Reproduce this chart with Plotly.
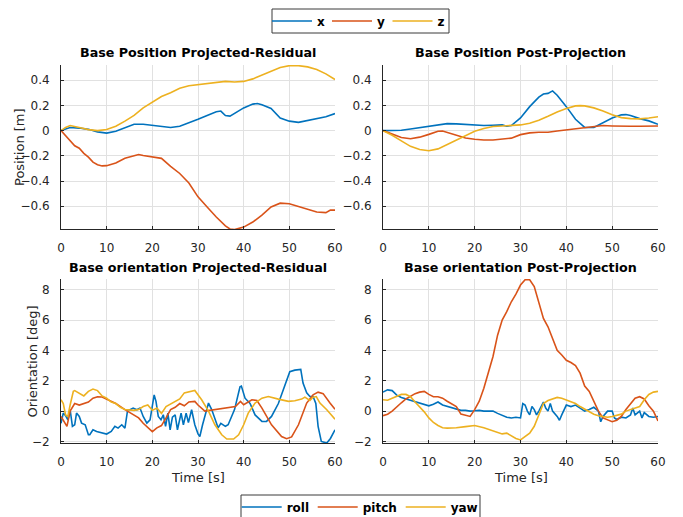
import plotly.graph_objects as go

# ---------------- data ----------------
# Top-left: Base Position Projected-Residual [m]
pr_x_t = [0,2,4,6,8,10,12,14,16,18,20,22,24,26,28,30,32,34,35,36,37,38,40,42,43,44,46,48,50,52,54,56,58,60]
pr_x_v = [0,0.025,0.02,0.01,-0.01,-0.02,-0.005,0.025,0.05,0.05,0.04,0.03,0.025,0.035,0.06,0.09,0.12,0.15,0.155,0.12,0.115,0.135,0.18,0.21,0.215,0.205,0.175,0.10,0.075,0.065,0.08,0.095,0.11,0.135]
pr_y_t = [0,1,2,3,4,5,6,7,8,9,10,12,14,16,17,18,20,22,24,26,28,30,32,34,36,37,38,40,42,44,46,48,50,52,54,56,58,59,60]
pr_y_v = [0,-0.04,-0.08,-0.12,-0.14,-0.18,-0.21,-0.25,-0.27,-0.28,-0.278,-0.257,-0.22,-0.198,-0.19,-0.198,-0.21,-0.22,-0.283,-0.34,-0.415,-0.525,-0.605,-0.685,-0.755,-0.78,-0.785,-0.765,-0.725,-0.67,-0.605,-0.575,-0.58,-0.6,-0.62,-0.645,-0.65,-0.63,-0.63]
pr_z_t = [0,1,2,3,4,6,8,10,12,14,16,18,20,22,24,26,28,30,32,34,36,38,40,42,44,46,48,50,52,54,56,58,60]
pr_z_v = [0,0.025,0.04,0.035,0.025,0.008,0,0.008,0.035,0.075,0.12,0.18,0.225,0.27,0.30,0.335,0.355,0.365,0.37,0.38,0.39,0.385,0.39,0.41,0.44,0.47,0.50,0.515,0.515,0.505,0.485,0.45,0.405]

# Top-right: Base Position Post-Projection [m]
pp_x_t = [0,2,4,6,8,10,12,14,16,18,20,22,24,26,27,28,30,32,34,35,36,37,38,40,42,44,46,48,50,52,53,54,56,58,60]
pp_x_v = [0,0,0.003,0.013,0.024,0.037,0.045,0.055,0.053,0.048,0.042,0.04,0.042,0.045,0.035,0.04,0.10,0.19,0.265,0.29,0.295,0.315,0.28,0.19,0.09,0.025,0.025,0.06,0.10,0.125,0.127,0.12,0.095,0.077,0.05]
pp_y_t = [0,2,4,6,8,10,12,13,14,16,18,20,22,24,26,28,30,32,34,36,38,40,42,44,46,48,50,52,54,56,58,60]
pp_y_v = [0,-0.03,-0.055,-0.065,-0.052,-0.03,-0.005,-0.003,-0.013,-0.037,-0.058,-0.068,-0.074,-0.074,-0.068,-0.06,-0.032,-0.018,-0.013,-0.013,-0.003,0.005,0.018,0.024,0.034,0.04,0.037,0.034,0.034,0.034,0.037,0.037]
pp_z_t = [0,2,4,6,8,10,12,14,16,18,20,22,24,26,28,30,32,34,36,38,40,42,43,44,46,48,50,52,54,56,58,60]
pp_z_v = [0,-0.037,-0.082,-0.125,-0.15,-0.16,-0.145,-0.11,-0.074,-0.037,-0.005,0.016,0.032,0.037,0.04,0.045,0.058,0.082,0.114,0.148,0.175,0.196,0.198,0.196,0.18,0.156,0.125,0.103,0.095,0.093,0.10,0.11]

# Bottom-left: Base orientation Projected-Residual [deg]
or_roll_t = [0,0.5,1,1.5,2,2.5,3,3.4,4,4.5,5.3,6,6.3,7,7.8,9,10,11,11.8,12.5,13.3,14,14.6,15.1,15.8,16.6,17.3,18,18.8,19.5,20.4,20.8,21.3,21.9,22.4,22.9,23.4,23.9,24.4,25,25.5,26.3,26.8,27.4,27.9,28.6,29.3,30,30.4,31,32.3,33,34.4,35,36,36.6,38,39.2,39.5,40.3,41.4,42.5,44,45,46.1,47.6,49,50.1,51.2,52.5,53,53.8,54.5,55.2,55.8,56.3,57,58.2,59,60]
or_roll_v = [-0.8,-0.13,-0.3,-0.57,0.09,-1.0,-0.9,-0.13,-0.35,-0.79,-0.9,-1.56,-1.56,-1.23,-1.34,-1.45,-1.51,-1.34,-1.0,-1.12,-0.9,-1.12,0.09,0.09,0.2,0.09,0.2,-0.35,-0.79,-0.57,1.07,0.64,-0.35,-0.57,-0.24,-1.0,-0.13,-1.23,-0.4,-0.24,-1.23,-0.13,-0.9,-0.13,-0.75,0.09,-0.9,-1.5,-1.67,-0.9,0.53,0.1,-1.1,-0.8,-1.0,-0.9,0.1,1.6,1.65,0.85,0.5,-0.25,-0.68,-0.68,-0.35,0.5,1.6,2.6,2.7,2.75,1.85,1.2,0.96,0.96,0.5,-1.0,-2.0,-2.1,-1.8,-1.23]
or_pitch_t = [0,1,1.3,2,3,4,5,6,7,8,9,10,12,14,15,16,17,18,19,20,21,22,23,24,25,26,27,28,29.3,30,31.5,33.7,36.4,38.2,39.3,40,41.8,42.9,44,46.1,48.3,49.4,50.5,52,53.8,55.2,56.3,57.4,58.9,60]
or_pitch_v = [-0.35,-0.9,-1.0,0,0.5,0.4,0.5,0.6,0.85,0.95,0.93,0.8,0.5,0.1,-0.1,-0.3,-0.45,-0.8,-1.1,-1.35,-1.1,-0.95,-0.45,0.1,0.25,0.5,0.35,0.6,0.64,0.4,0,0.1,0.24,0.3,0.64,0.42,0.75,0.7,0.2,-0.9,-1.67,-1.82,-1.7,-0.9,0.53,1.07,1.25,1.15,0.53,0.13]
or_yaw_t = [0,0.5,1,1.5,2,2.7,3,4,5,6,7,8,9,10,11,12,13,14,15,16,17,18,19,20,21,22,23,24,25,26,27,28,29.3,30.8,32.3,33.7,35.2,36.3,37.8,38.9,40,41,42.5,44,45.4,47.6,49.8,51.2,52.7,53.4,54.5,55.2,55.9,56.7,58.2,60]
or_yaw_v = [0.75,0.5,-0.25,-0.35,0.4,1.3,1.35,1.2,1.0,1.3,1.45,1.35,1.0,0.85,0.6,0.5,0.25,0.1,0.05,0.05,0.1,0.3,0.4,0.05,0.2,-0.15,0.3,0.45,0.6,0.8,1.2,1.25,1.36,0.75,0,-0.9,-1.56,-1.84,-1.84,-1.56,-0.9,-0.13,0.53,0.85,0.96,0.79,0.64,0.68,0.79,0.92,0.7,0.92,0.96,0.53,0.09,-0.53]

# Bottom-right: Base orientation Post-Projection [deg]
op_roll_t = [0,1,2,3,4,5,6,7,8,9,10,11,12,13,14,15,16,17,18,19,20,21,22,23,24,25,26,27,28,29,30,30.5,31,31.5,32,32.5,33,33.5,34,35,35.5,36,36.5,37,38,38.5,39,40,41,42,43,44,45,46,47,47.5,48,49,50,50.5,51,52,53,54,54.5,55,56,56.5,57,58,59,60]
op_roll_v = [1.25,1.4,1.35,1.05,0.9,0.8,0.7,0.65,0.5,0.4,0.35,0.45,0.6,0.4,0.3,0.25,0.15,0.05,0.05,0,0.02,0.05,0,0.02,0,-0.15,-0.3,-0.4,-0.45,-0.4,-0.45,0.5,0.4,0,-0.25,0.3,0.1,-0.25,0,0.6,0.2,0,0.5,0,-0.35,-0.6,-0.25,0.4,0.3,0.4,0.2,0,0.1,0.25,0,-0.7,-0.35,0,0,-0.45,-0.55,-0.4,-0.45,-0.25,0.2,-0.25,0,-0.45,-0.1,-0.35,-0.4,-0.35]
op_pitch_t = [0,1,2,3,4,5,6,7,8,9,10,11,12,13,14,15,16,17,18,19,20,21,22,23,24,25,26,27,28,29,30,31,32,33,34,35,36,37,38,39,40,41,42,43,44,45,46,47,48,49,50,51,52,53,54,55,56,57,58,59,60]
op_pitch_v = [-0.3,-0.2,0,0.3,0.55,0.8,1.0,1.15,1.25,1.3,1.1,0.95,0.95,0.85,0.65,0.45,0.3,-0.2,-0.25,-0.35,0.1,0.65,1.5,2.5,3.6,5.0,6.0,6.55,7.2,7.7,8.3,8.65,8.65,8.2,7.2,6.1,5.55,4.8,4.0,3.7,3.35,3.2,3.0,2.5,1.65,1.3,0.65,0,-0.45,-0.6,-0.7,-0.6,-0.35,0.1,0.5,0.85,0.95,0.8,0.35,0,-0.65]
op_yaw_t = [0,1,2,3,4,5,6,7,8,9,10,11,12,13,14,16,18,20,22,24,25,26,27,28,29,30,31,32,33,34,35,36,37,38,39,40,41,42,43,44,45,46,47,48,49,50,51,52,53,54,55,56,57,58,59,60]
op_yaw_v = [0.75,0.72,0.85,1.0,1.1,1.1,0.95,0.6,0.3,-0.05,-0.45,-0.75,-0.95,-1.1,-1.12,-1.1,-1.02,-0.95,-1.1,-1.3,-1.45,-1.5,-1.45,-1.65,-1.8,-1.9,-1.7,-1.45,-1.0,-0.25,0.5,0.7,0.8,0.9,0.85,0.75,0.6,0.5,0.3,0.12,-0.05,-0.2,-0.3,-0.35,-0.4,-0.35,-0.3,-0.2,0,0.1,0.25,0.3,0.75,1.1,1.25,1.3]

titles = ["Base Position Projected-Residual", "Base Position Post-Projection",
          "Base orientation Projected-Residual", "Base orientation Post-Projection"]
pos_ticks = [-0.6, -0.4, -0.2, 0, 0.2, 0.4]
ori_ticks = [-2, 0, 2, 4, 6, 8]
x_ticks = [0, 10, 20, 30, 40, 50, 60]

C_BLUE, C_ORANGE, C_YELLOW = "#0072BD", "#D95319", "#EDB120"
W, H = 683, 517
FONT = "DejaVu Sans"
TXT = "#262626"

# legend entry text widths (px), to match the reference spacing
LEG_W = {"x": 5.0, "y": 5.5, "z": 8.0, "roll": 21.0, "pitch": 33.0, "yaw": 27.0}

fig = go.Figure()

def add(t, v, name, color, ax, legend, show):
    fig.add_trace(go.Scatter(x=t, y=v, mode="lines", name=name,
                             line=dict(color=color, width=1.6),
                             xaxis="x" + ax, yaxis="y" + ax,
                             legend=legend, showlegend=show,
                             legendwidth=LEG_W[name]))

add(pr_x_t, pr_x_v, "x", C_BLUE, "", "legend", True)
add(pr_y_t, pr_y_v, "y", C_ORANGE, "", "legend", True)
add(pr_z_t, pr_z_v, "z", C_YELLOW, "", "legend", True)
add(pp_x_t, pp_x_v, "x", C_BLUE, "2", "legend", False)
add(pp_y_t, pp_y_v, "y", C_ORANGE, "2", "legend", False)
add(pp_z_t, pp_z_v, "z", C_YELLOW, "2", "legend", False)
add(or_roll_t, or_roll_v, "roll", C_BLUE, "3", "legend2", True)
add(or_pitch_t, or_pitch_v, "pitch", C_ORANGE, "3", "legend2", True)
add(or_yaw_t, or_yaw_v, "yaw", C_YELLOW, "3", "legend2", True)
add(op_roll_t, op_roll_v, "roll", C_BLUE, "4", "legend2", False)
add(op_pitch_t, op_pitch_v, "pitch", C_ORANGE, "4", "legend2", False)
add(op_yaw_t, op_yaw_v, "yaw", C_YELLOW, "4", "legend2", False)

# pixel layout of the four axes boxes
boxes = {"": (61, 335, 65, 229), "2": (383, 658, 65, 229),
         "3": (61, 335, 279, 443), "4": (383, 658, 279, 443)}

common_ax = dict(showline=True, linecolor=TXT, linewidth=1, mirror=False,
                 showgrid=True, gridcolor="#e1e1e1", gridwidth=1, zeroline=False,
                 ticks="inside", ticklen=3, tickcolor=TXT,
                 tickfont=dict(family=FONT, size=12, color=TXT))

layout_axes = {}
for k, (x0, x1, y0, y1) in boxes.items():
    xa = "xaxis" + k
    ya = "yaxis" + k
    yr = [-0.78, 0.52] if k in ("", "2") else [-2.1, 8.7]
    yt = pos_ticks if k in ("", "2") else ori_ticks
    layout_axes[xa] = dict(common_ax, domain=[x0 / W, x1 / W], range=[0, 60],
                           tickvals=x_ticks, anchor="y" + k, ticklabelstandoff=8)
    layout_axes[ya] = dict(common_ax, domain=[1 - y1 / H, 1 - y0 / H], range=yr,
                           tickvals=yt, anchor="x" + k, ticklabelstandoff=8)

fig.update_layout(**layout_axes)

ann = []
centers = [(198, 52.5), (520.5, 52.5), (198, 267), (520.5, 267)]
for txt, (cx, cy) in zip(titles, centers):
    ann.append(dict(text="<b>" + txt + "</b>", x=cx / W, y=1 - cy / H, xref="paper", yref="paper",
                    showarrow=False, xanchor="center", yanchor="middle",
                    font=dict(family=FONT, size=12.7, color="#000000")))
ann.append(dict(text="Position [m]", x=19 / W, y=1 - 147 / H, xref="paper", yref="paper",
                showarrow=False, textangle=-90, xanchor="center", yanchor="middle",
                font=dict(family=FONT, size=13, color=TXT)))
ann.append(dict(text="Orientation [deg]", x=31.5 / W, y=1 - 362 / H, xref="paper", yref="paper",
                showarrow=False, textangle=-90, xanchor="center", yanchor="middle",
                font=dict(family=FONT, size=13, color=TXT)))
for cx in (198, 520.5):
    ann.append(dict(text="Time [s]", x=cx / W, y=1 - 477 / H, xref="paper", yref="paper",
                    showarrow=False, xanchor="center", yanchor="middle",
                    font=dict(family=FONT, size=13, color=TXT)))

# legend boxes (frames drawn as shapes, legends themselves borderless)
legend_frames = [(272, 449, 9, 33), (241, 480, 495, 530)]
shapes = [dict(type="rect", xref="paper", yref="paper", layer="above",
               x0=a / W, x1=b / W, y0=1 - d / H, y1=1 - c / H,
               line=dict(color="#3a3a3a", width=1), fillcolor="rgba(0,0,0,0)")
          for a, b, c, d in legend_frames]

leg_common = dict(orientation="h", xref="paper", yref="paper", xanchor="left", yanchor="middle",
                  bgcolor="rgba(0,0,0,0)", borderwidth=0, itemwidth=40,
                  font=dict(family=FONT, size=12, color="#000000", weight="bold"),
                  itemclick=False, itemdoubleclick=False, tracegroupgap=0)

fig.update_layout(
    width=W, height=H, autosize=False,
    margin=dict(l=0, r=0, t=0, b=0, autoexpand=False),
    paper_bgcolor="#ffffff", plot_bgcolor="#ffffff",
    annotations=ann, shapes=shapes,
    legend=dict(leg_common, x=267 / W, y=1 - 21 / H),
    legend2=dict(leg_common, x=236.7 / W, y=1 - 507 / H),
)

fig.write_html("out.html")
